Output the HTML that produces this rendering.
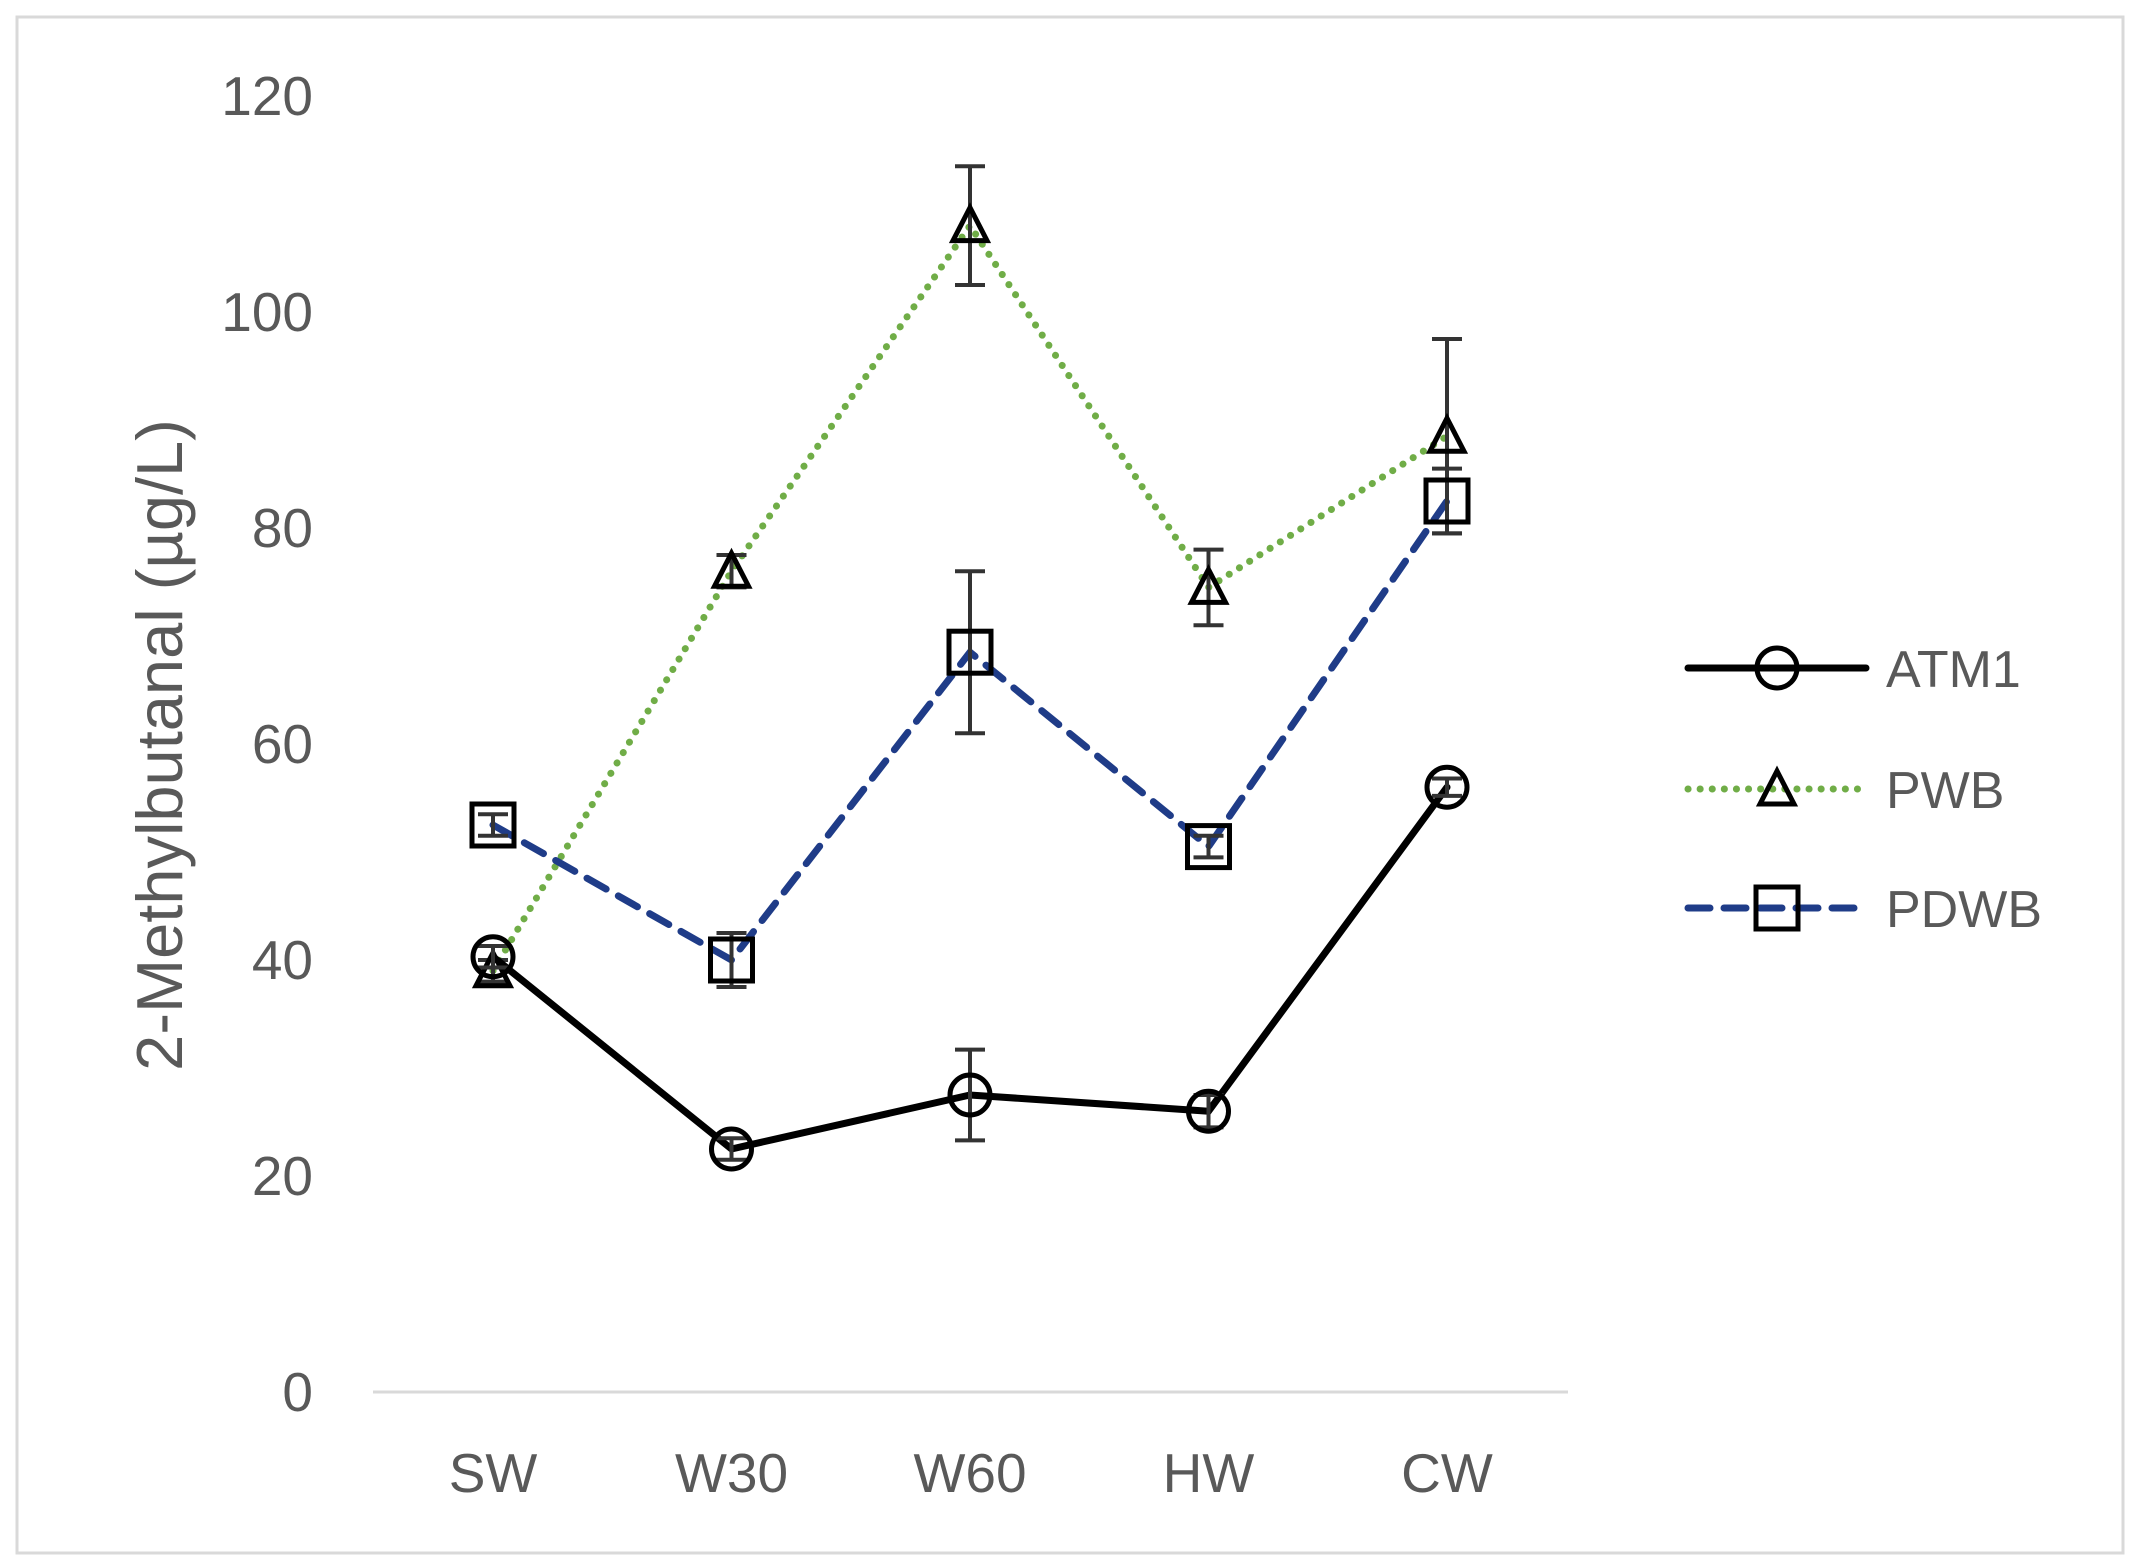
<!DOCTYPE html>
<html><head><meta charset="utf-8"><style>
html,body{margin:0;padding:0;background:#fff;}
svg{display:block;font-family:"Liberation Sans",sans-serif;}
</style></head><body>
<svg id="chart" width="2140" height="1566" viewBox="0 0 2140 1566" xmlns="http://www.w3.org/2000/svg">
<rect x="17" y="17" width="2106" height="1536" fill="#fff" stroke="#d9d9d9" stroke-width="3"/>
<g id="grid"></g>
<g id="series"></g>
<text transform="translate(182,745) rotate(-90)" text-anchor="middle" font-size="65" fill="#595959">2-Methylbutanal (µg/L)</text>
<g id="legend"></g>
</svg>
<script>
const categories = ["SW","W30","W60","HW","CW"];
const yTicks = [0,20,40,60,80,100,120];
const atm1 = [40.3,22.5,27.5,26,56];
const atm1Err = [1,1,4.2,1.5,0.8];
const pwb = [39,76,108,74.5,88.5];
const pwbErr = [1,1.5,5.5,3.5,9];
const pdwb = [52.5,40,68.5,50.5,82.5];
const pdwbErr = [1,2.5,7.5,1,3];

const NS="http://www.w3.org/2000/svg";
const y0=1392, y1=96, x0=493, dx=238.5;
const yScale=v=>y0-(v/120)*(y0-y1);
const xScale=i=>x0+i*dx;
function mk(tag,attrs,parent){const e=document.createElementNS(NS,tag);for(const k in attrs)e.setAttribute(k,attrs[k]);parent.appendChild(e);return e;}
const grid=document.getElementById('grid');
const ax=mk('line',{x1:373,x2:1568,y1:y0,y2:y0,stroke:'#d9d9d9','stroke-width':3},grid);


yTicks.forEach(t=>{const e=mk('text',{x:313,y:yScale(t)+19,'text-anchor':'end','font-size':55,fill:'#595959'},grid);e.textContent=t;

});
categories.forEach((c,i)=>{const e=mk('text',{x:xScale(i),y:1492,'text-anchor':'middle','font-size':55,fill:'#595959'},grid);e.textContent=c;

});

function marker(type,cx,cy,g){
  let e;
  if(type==='circle')e=mk('circle',{cx,cy,r:20,fill:'none',stroke:'#000','stroke-width':5},g);
  else if(type==='square')e=mk('rect',{x:cx-21,y:cy-21,width:42,height:42,fill:'none',stroke:'#000','stroke-width':5},g);
  else e=mk('polygon',{points:`${cx},${cy-18} ${cx-17},${cy+15} ${cx+17},${cy+15}`,fill:'none',stroke:'#000','stroke-width':5},g);
  return e;
}
const seriesG=document.getElementById('series');
function drawSeries(name,vals,errs,color,dash,width,mtype){
  const g=mk('g',{},seriesG);
  
  
  const pts=vals.map((v,i)=>xScale(i)+','+yScale(v)).join(' ');
  const l=mk('polyline',{points:pts,fill:'none',stroke:color,'stroke-width':width,'stroke-dasharray':dash,'stroke-linecap':'round'},g);
  
  
  vals.forEach((v,i)=>{
    const x=xScale(i),t=yScale(v+errs[i]),b=yScale(v-errs[i]);
    const eg=mk('g',{stroke:'#333','stroke-width':4},g);
    
    
    mk('line',{x1:x,x2:x,y1:t,y2:b},eg);
    mk('line',{x1:x-15,x2:x+15,y1:t,y2:t},eg);
    mk('line',{x1:x-15,x2:x+15,y1:b,y2:b},eg);
    const m=marker(mtype,x,yScale(v),g);
    
    
  });
}
drawSeries('pwb',pwb,pwbErr,'#70ad47','0.1 12',7,'triangle');
drawSeries('pdwb',pdwb,pdwbErr,'#1f3c88','22 14',7,'square');
drawSeries('atm1',atm1,atm1Err,'#000','',7,'circle');

const lg=document.getElementById('legend');
const entries=[['ATM1','#000','',668,'circle'],['PWB','#70ad47','0.1 12',789,'triangle'],['PDWB','#1f3c88','22 14',908,'square']];
entries.forEach(([n,c,d,y,m])=>{
  const g=mk('g',{},lg);
  
  
  mk('line',{x1:1688,x2:1866,y1:y,y2:y,stroke:c,'stroke-width':7,'stroke-dasharray':d,'stroke-linecap':'round'},g);
  marker(m,1777,y,g);
  const t=mk('text',{x:1886,y:y+19,'font-size':52,fill:'#595959'},g);t.textContent=n;
});
</script>
</body></html>
